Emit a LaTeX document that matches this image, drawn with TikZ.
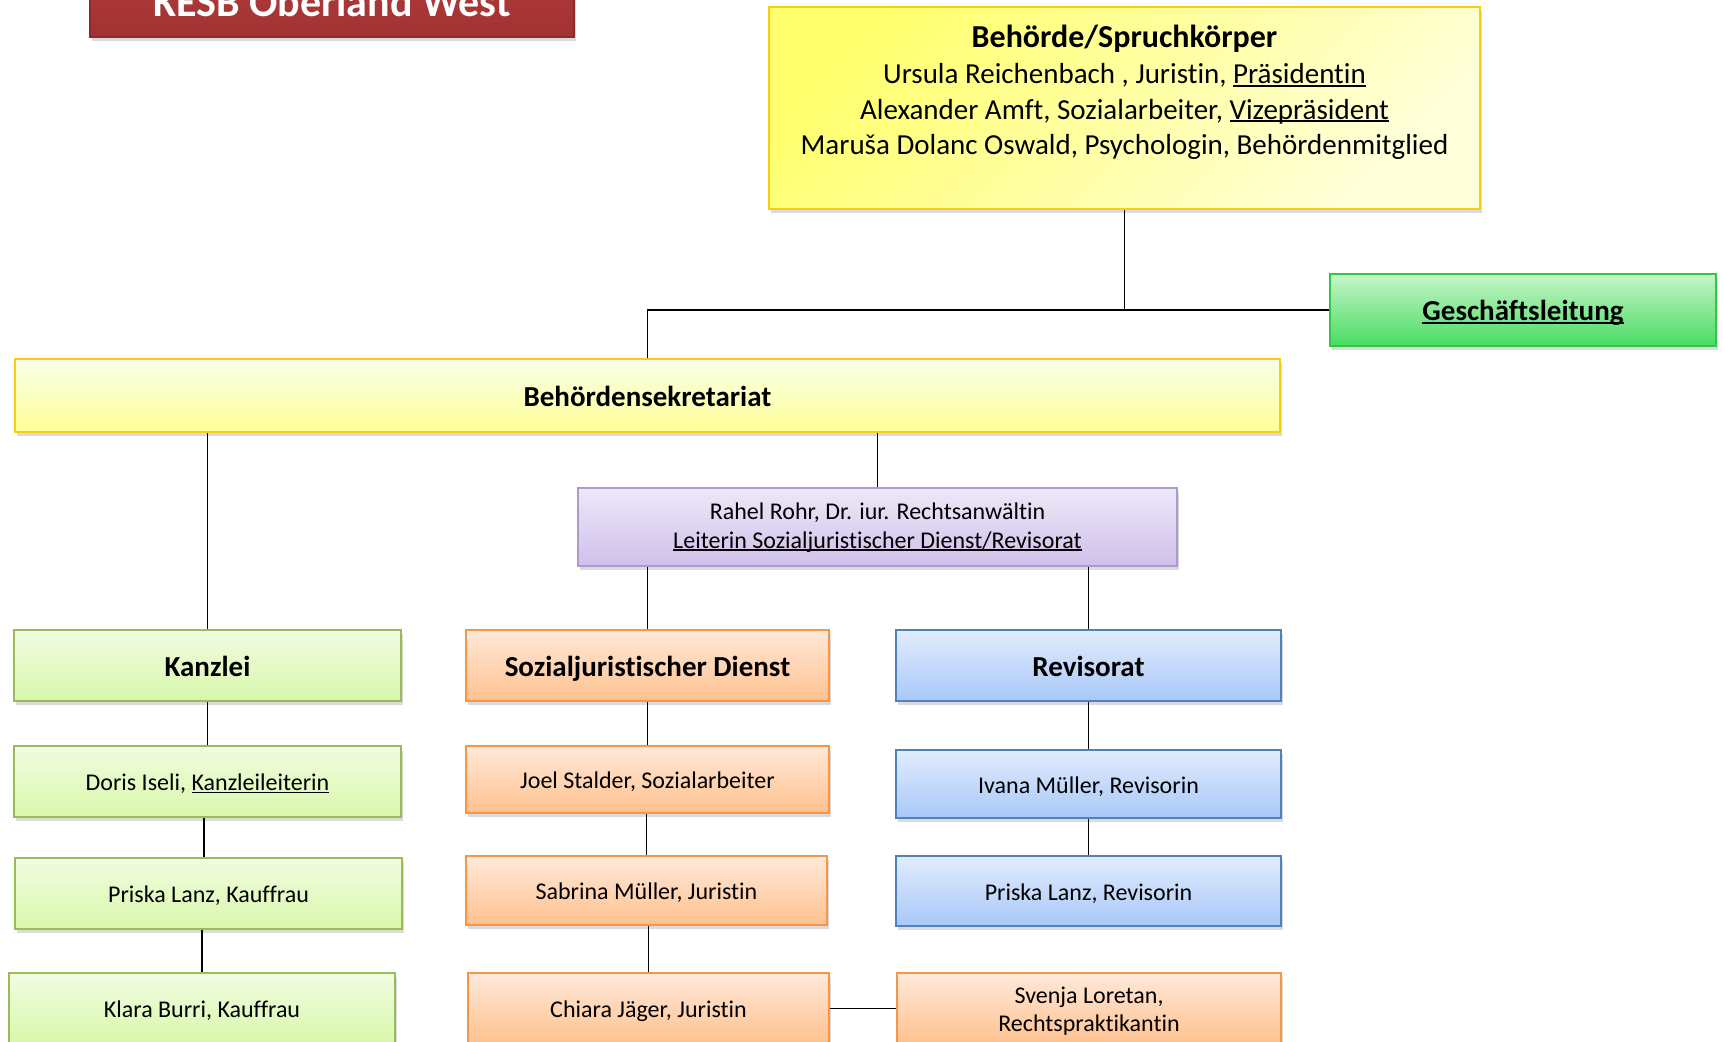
\documentclass[tikz,border=0pt]{standalone}
\usepackage{fontspec}
\setmainfont{Carlito}[RawFeature={-liga;-clig;-dlig}]
\usetikzlibrary{shadows}
\definecolor{ybord}{RGB}{250,205,20}
\definecolor{ybA}{RGB}{255,255,110}
\definecolor{ybB}{RGB}{255,255,218}
\definecolor{ysA}{RGB}{247,255,232}
\definecolor{ysB}{RGB}{255,255,150}
\definecolor{gdA}{RGB}{198,245,200}
\definecolor{gdB}{RGB}{72,220,98}
\definecolor{gdbord}{RGB}{52,196,70}
\definecolor{lgA}{RGB}{241,252,225}
\definecolor{lgB}{RGB}{216,248,170}
\definecolor{lgbord}{RGB}{155,187,89}
\definecolor{orA}{RGB}{255,233,218}
\definecolor{orB}{RGB}{255,193,142}
\definecolor{orbord}{RGB}{247,150,70}
\definecolor{blA}{RGB}{226,236,253}
\definecolor{blB}{RGB}{168,200,248}
\definecolor{blbord}{RGB}{79,129,189}
\definecolor{puA}{RGB}{238,232,248}
\definecolor{puB}{RGB}{207,192,234}
\definecolor{pubord}{RGB}{170,155,205}
\definecolor{rdA}{RGB}{182,60,60}
\definecolor{rdB}{RGB}{160,50,50}
\definecolor{rdbord}{RGB}{140,42,42}
\newcommand\myul[1]{\leavevmode\setbox0\hbox{#1}\rlap{\rule[-0.11em]{\wd0}{0.07em}}\box0}
\tikzset{
  box/.style={draw, line width=2pt, inner sep=0pt,
    drop shadow={shadow xshift=2pt, shadow yshift=-4pt, opacity=0.28}},
  hd/.style={font=\fontsize{29}{35}\selectfont\bfseries, text height=21pt, text depth=0pt},
  big/.style={font=\fontsize{29}{35}\selectfont},
  en/.style={font=\fontsize{24}{29}\selectfont, text height=18.4pt, text depth=0pt},
  lin/.style={font=\fontsize{24}{29}\selectfont},
  ybox/.style={box, draw=ybord, top color=ysA, bottom color=ysB},
  bbox/.style={box, draw=ybord, top color=ybA, bottom color=ybB, shading angle=45},
  gbox/.style={box, draw=gdbord, top color=gdA, bottom color=gdB},
  lgbox/.style={box, draw=lgbord, top color=lgA, bottom color=lgB},
  obox/.style={box, draw=orbord, top color=orA, bottom color=orB},
  blbox/.style={box, draw=blbord, top color=blA, bottom color=blB},
  pbox/.style={box, draw=pubord, top color=puA, bottom color=puB},
  rbox/.style={box, draw=rdbord, top color=rdA, bottom color=rdB},
  conn/.style={draw=black, line width=1.7pt},
}
\begin{document}
\begin{tikzpicture}[x=1pt,y=-1pt]
\useasboundingbox (0,0) rectangle (1723,1041);
\fill[white] (0,0) rectangle (1723,1041);

% title
\node[rbox, minimum width=484pt, minimum height=77pt] (title) at (332,-1.5) {};
\node[anchor=base, text=white, font=\fontsize{42}{50}\selectfont\bfseries] (titletext) at (332,17) {KESB Oberland West};

% Behoerde
\node[bbox, minimum width=711pt, minimum height=202pt] (beh) at (1124.5,108) {};
\node[anchor=base, font=\fontsize{32}{38}\selectfont\bfseries] (behT) at (1124.5,48) {Behörde/Spruchkörper};
\node[big, anchor=base] (beh1) at (1124.5,84) {Ursula Reichenbach , Juristin, \myul{Präsidentin}};
\node[big, anchor=base] (beh2) at (1124.5,119) {Alexander Amft, Sozialarbeiter, \myul{Vizepräsident}};
\node[big, anchor=base] (beh3) at (1124.5,154) {Maruša Dolanc Oswald, Psychologin, Behördenmitglied};

% Geschaeftsleitung
\node[gbox, hd, minimum width=386pt, minimum height=72pt] (gl) at (1523,310) {\myul{Geschäftsleitung}};

% Behoerdensekretariat
\node[ybox, hd, minimum width=1265pt, minimum height=73pt] (bs) at (647.5,395.5) {Behördensekretariat};

% Rahel
\node[pbox, minimum width=599pt, minimum height=78pt] (rahel) at (877.5,527) {};
\node[lin, anchor=base] (rahel1) at (877.5,519) {Rahel Rohr, Dr. iur. Rechtsanwältin};
\node[lin, anchor=base] (rahel2) at (877.5,548) {\myul{Leiterin Sozialjuristischer Dienst/Revisorat}};

% row 1
\node[lgbox, hd, minimum width=387pt, minimum height=71pt] (kanz) at (207.5,665.5) {Kanzlei};
\node[obox, hd, minimum width=363pt, minimum height=71pt] (sjd) at (647.5,665.5) {Sozialjuristischer Dienst};
\node[blbox, hd, minimum width=385pt, minimum height=71pt] (rev) at (1088.5,665.5) {Revisorat};

% row 2
\node[lgbox, en, minimum width=387pt, minimum height=71pt] (doris) at (207.5,781.5) {Doris Iseli, \myul{Kanzleileiterin}};
\node[obox, en, minimum width=363pt, minimum height=67pt] (joel) at (647.5,779.5) {Joel Stalder, Sozialarbeiter};
\node[blbox, en, minimum width=385pt, minimum height=68pt] (ivana) at (1088.5,784) {Ivana Müller, Revisorin};

% row 3
\node[lgbox, en, minimum width=387pt, minimum height=71pt] (priskaK) at (208.5,893.5) {Priska Lanz, Kauffrau};
\node[obox, en, minimum width=361pt, minimum height=69pt] (sabrina) at (646.5,890.5) {Sabrina Müller, Juristin};
\node[blbox, en, minimum width=385pt, minimum height=70pt] (priskaR) at (1088.5,891) {Priska Lanz, Revisorin};

% row 4
\node[lgbox, en, minimum width=386pt, minimum height=71pt] (klara) at (202,1008.5) {Klara Burri, Kauffrau};
\node[obox, en, minimum width=361pt, minimum height=71pt] (chiara) at (648.5,1008.5) {Chiara Jäger, Juristin};
\node[obox, minimum width=384pt, minimum height=71pt] (svenja) at (1089,1008.5) {};
\node[lin, anchor=base] (svenja1) at (1089,1003) {Svenja Loretan,};
\node[lin, anchor=base] (svenja2) at (1089,1031) {Rechtspraktikantin};

% connectors
\coordinate (c1) at (204,0);
\path[conn] (beh.south) -- (beh.south |- gl.west);
\path[conn] (gl.west) -| (bs.north);
\path[conn] (kanz.north) -- (kanz.north |- bs.south);
\path[conn] (rahel.north) -- (rahel.north |- bs.south);
\path[conn] (sjd.north) -- (sjd.north |- rahel.south);
\path[conn] (rev.north) -- (rev.north |- rahel.south);
\path[conn] (kanz.south) -- (doris.north);
\path[conn] (doris.south -| c1) -- (priskaK.north -| c1);
\path[conn] (klara.north) -- (klara.north |- priskaK.south);
\path[conn] (joel.north) -- (joel.north |- sjd.south);
\path[conn] (sabrina.north) -- (sabrina.north |- joel.south);
\path[conn] (chiara.north) -- (chiara.north |- sabrina.south);
\path[conn] (rev.south) -- (ivana.north);
\path[conn] (ivana.south) -- (priskaR.north);
\path[conn] (chiara.east) -- (svenja.west);
\end{tikzpicture}
\end{document}
